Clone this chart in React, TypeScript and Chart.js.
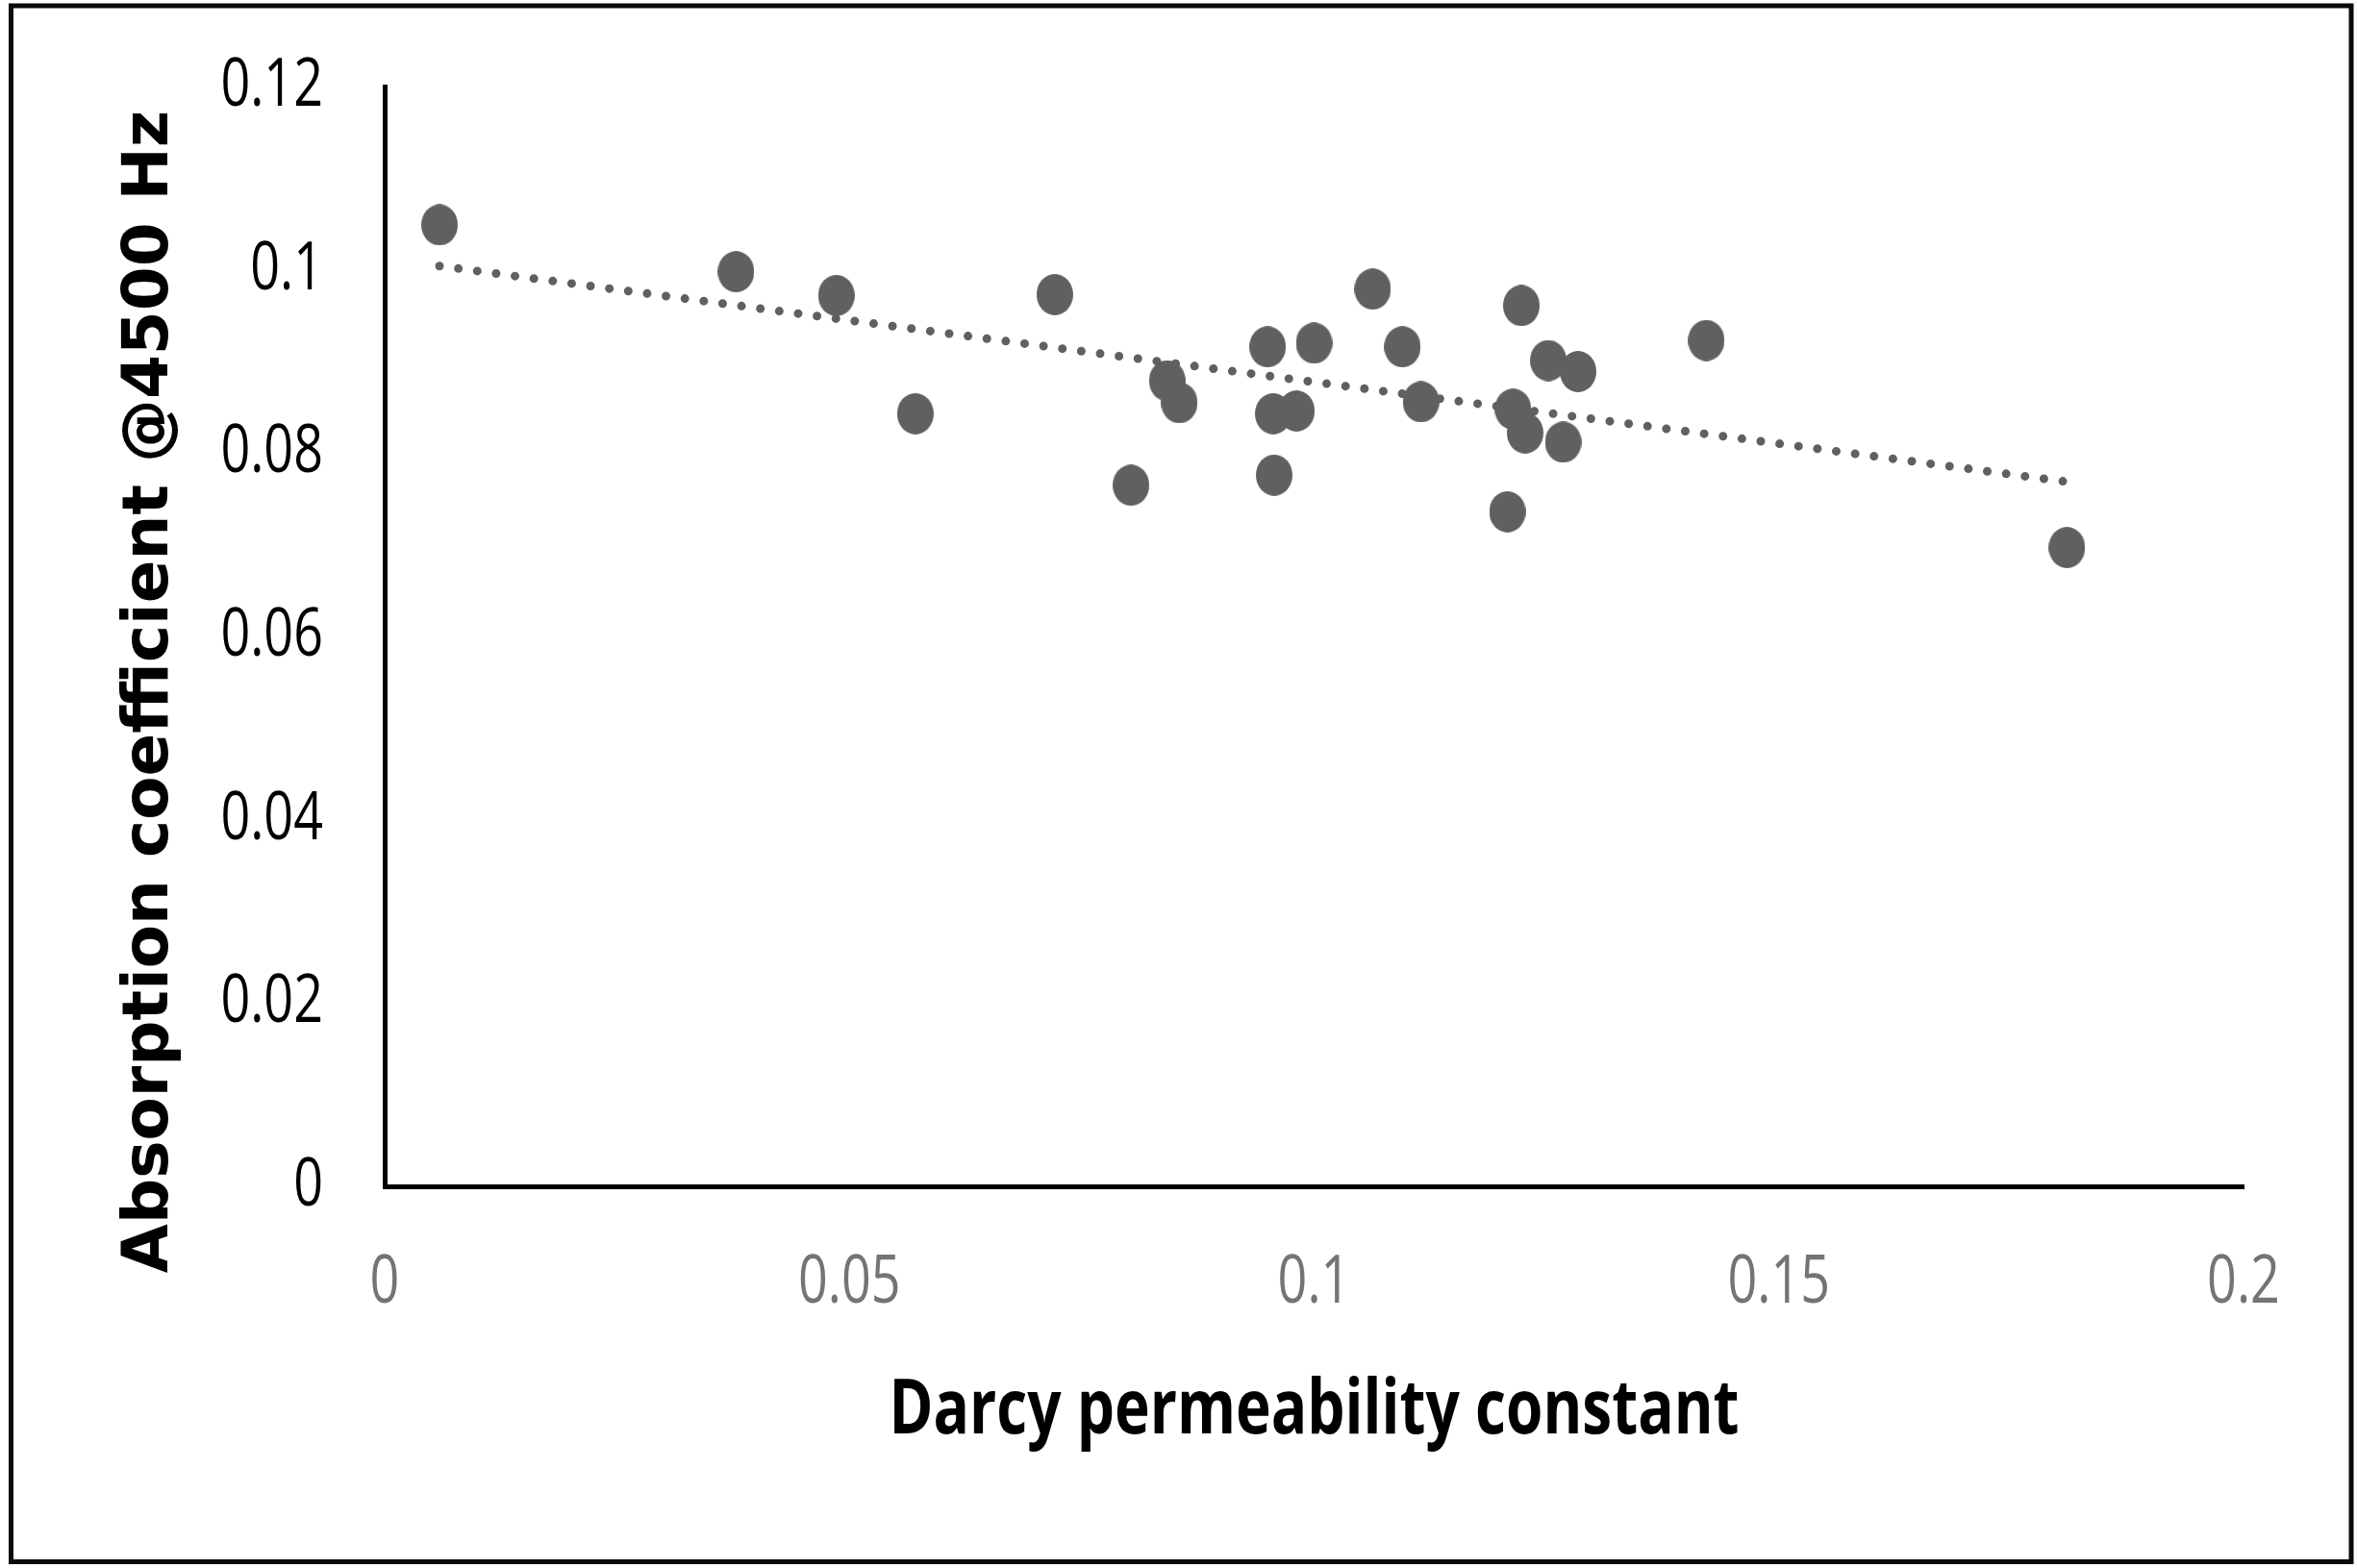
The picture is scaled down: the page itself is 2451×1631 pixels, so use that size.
import React, { useEffect, useRef } from "react";
import { Chart, registerables } from "chart.js";

Chart.register(...registerables);

// ---- data ----
const permeability = [
  0.0059, 0.0378, 0.0486, 0.0571, 0.0721, 0.0803, 0.0842, 0.0855, 0.095, 0.0956,
  0.0957, 0.0981, 0.1, 0.1063, 0.1095, 0.1115, 0.1208, 0.1214, 0.1223, 0.1227,
  0.1252, 0.1268, 0.1284, 0.1422, 0.181,
];
const absorption = [
  0.1049, 0.0998, 0.0972, 0.0843, 0.0973, 0.0765, 0.0879, 0.0855, 0.0916, 0.0843,
  0.0776, 0.0846, 0.092, 0.0979, 0.0916, 0.0856, 0.0736, 0.0848, 0.0961, 0.0822,
  0.0901, 0.0812, 0.0889, 0.0923, 0.0697,
];
const xTickValues = [0, 0.05, 0.1, 0.15, 0.2];
const yTickValues = [0, 0.02, 0.04, 0.06, 0.08, 0.1, 0.12];
const xTitle = "Darcy permeability constant";
const yTitle = "Absorption coefficient @4500 Hz";

// least-squares linear trendline
function linearTrend(xs: number[], ys: number[]) {
  const n = xs.length;
  const mx = xs.reduce((a, b) => a + b, 0) / n;
  const my = ys.reduce((a, b) => a + b, 0) / n;
  let sxy = 0;
  let sxx = 0;
  for (let i = 0; i < n; i++) {
    sxy += (xs[i] - mx) * (ys[i] - my);
    sxx += (xs[i] - mx) * (xs[i] - mx);
  }
  const slope = sxy / sxx;
  const icept = my - slope * mx;
  const x0 = Math.min(...xs);
  const x1 = Math.max(...xs);
  return [
    { x: x0, y: icept + slope * x0 },
    { x: x1, y: icept + slope * x1 },
  ];
}

function makeMarker(w: number, h: number, color: string) {
  const c = document.createElement("canvas");
  c.width = w;
  c.height = h;
  const g = c.getContext("2d")!;
  g.fillStyle = color;
  g.beginPath();
  g.ellipse(w / 2, h / 2, w / 2, h / 2, 0, 0, Math.PI * 2);
  g.fill();
  return c;
}

const W = 2451;
const H = 1631;
const TICK_FAMILY = "'Open Sans', 'Noto Sans', sans-serif";
const XTITLE_FAMILY = "'Open Sans', 'Noto Sans', sans-serif";
const XTITLE_SIZE = 78;
const XTITLE_WIDTH = 884;
const TICK_SQUEEZE = 0.77;

const framePlugin = {
  id: "frame",
  beforeDraw(chart: any) {
    const ctx = chart.ctx;
    ctx.save();
    ctx.fillStyle = "#ffffff";
    ctx.fillRect(0, 0, chart.width, chart.height);
    ctx.strokeStyle = "#0a0a0a";
    ctx.lineWidth = 5;
    ctx.strokeRect(11.5, 6, 2445 - 11.5, 1624.5 - 6);
    ctx.restore();
    // narrow the tick labels (the reference uses a condensed face)
    for (const id of ["x", "y"]) {
      const scale = chart.scales[id];
      const items = scale.getLabelItems(chart.chartArea);
      for (const it of items) {
        ctx.save();
        ctx.font = it.font.string;
        const w = ctx.measureText(String(it.label)).width;
        ctx.restore();
        it.options.maxWidth = w * TICK_SQUEEZE;
      }
    }
    // narrow the x-axis title in the same way: its maxWidth is the scale width
    const xs = chart.scales.x;
    if (!xs.__narrowTitle) {
      xs.__narrowTitle = true;
      const orig = xs.drawTitle;
      xs.drawTitle = function () {
        const l = this.left;
        const r = this.right;
        const c = (l + r) / 2;
        this.left = c - XTITLE_WIDTH / 2;
        this.right = c + XTITLE_WIDTH / 2;
        try {
          orig.call(this);
        } finally {
          this.left = l;
          this.right = r;
        }
      };
    }
  },
};

export default function App() {
  const ref = useRef<HTMLCanvasElement | null>(null);

  useEffect(() => {
    if (!ref.current) return;
    const points = permeability.map((x, i) => ({ x, y: absorption[i] }));
    const marker = makeMarker(38, 43, "#606060");
    const chart = new Chart(ref.current, {
      type: "scatter",
      data: {
        datasets: [
          {
            type: "line",
            data: linearTrend(permeability, absorption),
            borderColor: "#606060",
            borderWidth: 9,
            borderDash: [0, 19.8],
            borderCapStyle: "round",
            pointRadius: 0,
            fill: false,
            order: 0,
          } as any,
          {
            data: points,
            pointStyle: marker as any,
            pointRadius: 20,
            backgroundColor: "#606060",
            borderWidth: 0,
            order: 1,
          },
        ],
      },
      options: {
        responsive: false,
        animation: false,
        devicePixelRatio: 1,
        layout: { padding: { left: 0, right: W - 2333, top: 90, bottom: 0 } },
        plugins: { legend: { display: false }, tooltip: { enabled: false } },
        scales: {
          x: {
            type: "linear",
            min: 0,
            max: 0.2,
            afterBuildTicks: (s: any) => {
              s.ticks = xTickValues.map((v) => ({ value: v }));
            },
            afterFit: (s: any) => {
              s.height = H - 1234;
              s.paddingLeft = 0;
              s.paddingRight = 0;
            },
            grid: { display: false, drawTicks: false },
            border: { display: true, color: "#000000", width: 5 },
            ticks: {
              color: "#747474",
              padding: 59,
              maxRotation: 0,
              font: { family: TICK_FAMILY, size: 70, weight: "normal" },
              callback: (v: any) => String(v),
            },
            title: {
              display: true,
              text: xTitle,
              color: "#000000",
              font: { family: XTITLE_FAMILY, size: XTITLE_SIZE, weight: "bold" },
              padding: { top: 0, bottom: 162 - (XTITLE_SIZE * 1.2) / 2 },
            },
          },
          y: {
            type: "linear",
            min: 0,
            max: 0.12,
            afterBuildTicks: (s: any) => {
              s.ticks = yTickValues.map((v) => ({ value: v }));
            },
            afterFit: (s: any) => {
              s.width = 400;
              s.paddingTop = 0;
              s.paddingBottom = 0;
            },
            grid: { display: false, drawTicks: false },
            border: { display: true, color: "#000000", width: 5 },
            ticks: {
              color: "#000000",
              padding: 64,
              font: { family: TICK_FAMILY, size: 70, weight: "normal" },
              callback: (v: any) => String(v),
            },
            title: {
              display: true,
              text: yTitle + "     ",
              color: "#000000",
              font: { family: "'DejaVu Sans', sans-serif", size: 66, weight: "bold" },
              padding: { top: 117, bottom: 0 },
            },
          },
        },
      },
      plugins: [framePlugin],
    });
    return () => chart.destroy();
  }, []);

  return (
    <div style={{ position: "absolute", left: 0, top: 0, width: W, height: H, background: "#fff" }}>
      <canvas ref={ref} width={W} height={H} style={{ display: "block", width: W, height: H }} />
    </div>
  );
}
